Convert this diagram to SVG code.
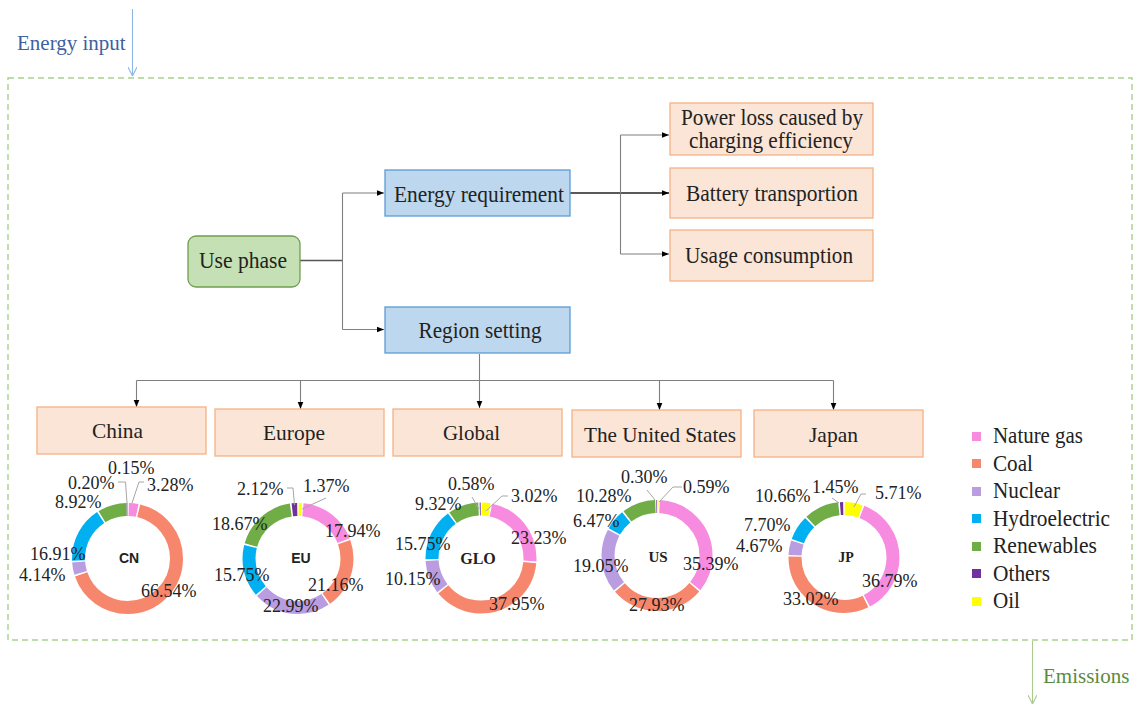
<svg xmlns="http://www.w3.org/2000/svg" width="1147" height="706" viewBox="0 0 1147 706">
<defs>
<marker id="arr" viewBox="0 0 10 10" refX="10" refY="5" markerWidth="7" markerHeight="7" markerUnits="userSpaceOnUse" orient="auto"><path d="M0,1 L10,5 L0,9 z" fill="#000"/></marker>
<marker id="vblue" viewBox="0 0 10 10" refX="10" refY="5" markerWidth="9" markerHeight="9" markerUnits="userSpaceOnUse" orient="auto"><path d="M0,0 L10,5 L0,10" fill="none" stroke="#8eb4e3" stroke-width="1.2"/></marker>
<marker id="vgreen" viewBox="0 0 10 10" refX="10" refY="5" markerWidth="9" markerHeight="9" markerUnits="userSpaceOnUse" orient="auto"><path d="M0,0 L10,5 L0,10" fill="none" stroke="#a9c98f" stroke-width="1.2"/></marker>
<style>
text{font-family:"Liberation Serif","Times New Roman",serif;fill:#222}
.box{font-size:23px;text-anchor:middle}
.reg{font-size:22px;text-anchor:middle}
.pct{font-size:18px}
.blue{fill:#bdd7ee;stroke:#5b9bd5;stroke-width:1.3}
.orange{fill:#fbe5d6;stroke:#f4b183;stroke-width:1.3}
.green{fill:#c5e0b4;stroke:#6f9f4f;stroke-width:1.3}
.conn{fill:none;stroke:#7f7f7f;stroke-width:1.1}
.lead{fill:none;stroke:#a6a6a6;stroke-width:1}
.seg{fill:none;stroke-width:13}
.gas{stroke:#f78be0}.coal{stroke:#f7876c}.nuc{stroke:#b99de0}.hyd{stroke:#00b0f0}.ren{stroke:#70ad47}.oth{stroke:#7030a0}.oil{stroke:#ffff00}
.ctr{font-weight:bold;text-anchor:middle}
.leg{font-size:22.5px}
</style>
</defs>
<rect width="1147" height="706" fill="#fff"/>

<!-- frame -->
<rect x="8" y="78" width="1124" height="562" fill="none" stroke="#a9d18e" stroke-width="1.4" stroke-dasharray="6,4"/>

<!-- energy input / emissions -->
<g id="energy-input">
<line x1="132.5" y1="9" x2="132.5" y2="76" stroke="#8eb4e3" stroke-width="1.1" marker-end="url(#vblue)"/>
<text x="17" y="50" font-size="21" style="fill:#3f5f9f">Energy input</text>
</g>
<g id="emissions">
<line x1="1032.5" y1="641" x2="1032.5" y2="704" stroke="#a9c98f" stroke-width="1.1" marker-end="url(#vgreen)"/>
<text x="1043" y="683" font-size="21" style="fill:#5b8b3e">Emissions</text>
</g>

<!-- connectors -->
<g id="connectors">
<path class="conn" d="M300,260.5 H342.5" style="stroke:#555;stroke-width:1.5"/>
<path class="conn" d="M342.5,193 V329.5"/>
<path class="conn" d="M342.5,193 H384" marker-end="url(#arr)"/>
<path class="conn" d="M342.5,329.5 H384" marker-end="url(#arr)"/>
<path class="conn" d="M570,193 H669" style="stroke:#222;stroke-width:1.3" marker-end="url(#arr)"/>
<path class="conn" d="M620.5,135 V254"/>
<path class="conn" d="M620.5,135 H669" marker-end="url(#arr)"/>
<path class="conn" d="M620.5,254 H669" marker-end="url(#arr)"/>
<path class="conn" d="M479.5,354 V408" marker-end="url(#arr)"/>
<path class="conn" d="M136.5,380.5 H833.5"/>
<path class="conn" d="M136.5,380.5 V407" marker-end="url(#arr)"/>
<path class="conn" d="M300.5,380.5 V409" marker-end="url(#arr)"/>
<path class="conn" d="M659.5,380.5 V410" marker-end="url(#arr)"/>
<path class="conn" d="M833.5,380.5 V410" marker-end="url(#arr)"/>
</g>

<!-- nodes -->
<g id="use-phase"><rect class="green" x="188" y="236" width="112" height="51" rx="8"/><text class="box" x="243" y="268" textLength="88" lengthAdjust="spacingAndGlyphs">Use phase</text></g>
<g id="energy-requirement"><rect class="blue" x="385" y="170" width="185" height="46"/><text class="box" x="479" y="202" textLength="170" lengthAdjust="spacingAndGlyphs">Energy requirement</text></g>
<g id="region-setting"><rect class="blue" x="385" y="307" width="185" height="46"/><text class="box" x="480" y="338" textLength="123" lengthAdjust="spacingAndGlyphs">Region setting</text></g>
<g id="power-loss"><rect class="orange" x="670" y="103" width="203" height="52"/><text class="box" x="772" y="125" textLength="182" lengthAdjust="spacingAndGlyphs">Power loss caused by</text><text class="box" x="771" y="148" textLength="164" lengthAdjust="spacingAndGlyphs">charging efficiency</text></g>
<g id="battery-transportion"><rect class="orange" x="670" y="168" width="203" height="50"/><text class="box" x="772" y="201" textLength="172" lengthAdjust="spacingAndGlyphs">Battery transportion</text></g>
<g id="usage-consumption"><rect class="orange" x="670" y="230" width="203" height="51"/><text class="box" x="769" y="263" textLength="168" lengthAdjust="spacingAndGlyphs">Usage consumption</text></g>

<g id="china"><rect class="orange" x="37" y="407" width="169" height="47"/><text class="reg" x="117.5" y="438" textLength="51" lengthAdjust="spacingAndGlyphs">China</text></g>
<g id="europe"><rect class="orange" x="215" y="409" width="169" height="47"/><text class="reg" x="294" y="440" textLength="62" lengthAdjust="spacingAndGlyphs">Europe</text></g>
<g id="global"><rect class="orange" x="393" y="409" width="169" height="47"/><text class="reg" x="471.5" y="440" textLength="57" lengthAdjust="spacingAndGlyphs">Global</text></g>
<g id="united-states"><rect class="orange" x="572" y="410" width="169" height="47"/><text class="reg" x="660" y="442" textLength="152" lengthAdjust="spacingAndGlyphs">The United States</text></g>
<g id="japan"><rect class="orange" x="754" y="410" width="169" height="47"/><text class="reg" x="833.5" y="442" textLength="49" lengthAdjust="spacingAndGlyphs">Japan</text></g>

<!-- donut CN -->
<g id="donut-cn" transform="translate(127.5,558.5)">
<g transform="rotate(-90)">
<circle class="seg oil" r="49" pathLength="100" stroke-dasharray="0.15 100" stroke-dashoffset="-0.02"/>
<circle class="seg gas" r="49" pathLength="100" stroke-dasharray="2.78 100" stroke-dashoffset="-0.4"/>
<circle class="seg coal" r="49" pathLength="100" stroke-dasharray="66.04 100" stroke-dashoffset="-3.68"/>
<circle class="seg nuc" r="49" pathLength="100" stroke-dasharray="3.64 100" stroke-dashoffset="-70.22"/>
<circle class="seg hyd" r="49" pathLength="100" stroke-dasharray="16.41 100" stroke-dashoffset="-74.36"/>
<circle class="seg ren" r="49" pathLength="100" stroke-dasharray="8.42 100" stroke-dashoffset="-91.27"/>
<circle class="seg oth" r="49" pathLength="100" stroke-dasharray="0.2 100" stroke-dashoffset="-99.75"/>
</g>
<text class="ctr" x="1.5" y="4" font-size="14" style="font-family:'Liberation Sans',Arial,sans-serif">CN</text>
</g>
<g id="labels-cn">
<path class="lead" d="M118,482 H125.5 L127,503"/>
<path class="lead" d="M144,482 H139 L132,503"/>
<text class="pct" x="108" y="474">0.15%</text>
<text class="pct" x="68" y="489">0.20%</text>
<text class="pct" x="147" y="491">3.28%</text>
<text class="pct" x="55" y="508">8.92%</text>
<text class="pct" x="30" y="560">16.91%</text>
<text class="pct" x="19" y="581">4.14%</text>
<text class="pct" x="141" y="597">66.54%</text>
</g>

<!-- donut EU -->
<g id="donut-eu" transform="translate(298,558.5)">
<g transform="rotate(-90)">
<circle class="seg oil" r="49" pathLength="100" stroke-dasharray="1.0 100" stroke-dashoffset="-0.2"/>
<circle class="seg gas" r="49" pathLength="100" stroke-dasharray="17.44 100" stroke-dashoffset="-1.62"/>
<circle class="seg coal" r="49" pathLength="100" stroke-dasharray="20.66 100" stroke-dashoffset="-19.56"/>
<circle class="seg nuc" r="49" pathLength="100" stroke-dasharray="22.49 100" stroke-dashoffset="-40.72"/>
<circle class="seg hyd" r="49" pathLength="100" stroke-dasharray="15.25 100" stroke-dashoffset="-63.71"/>
<circle class="seg ren" r="49" pathLength="100" stroke-dasharray="18.17 100" stroke-dashoffset="-79.46"/>
<circle class="seg oth" r="49" pathLength="100" stroke-dasharray="1.62 100" stroke-dashoffset="-98.13"/>
</g>
<text class="ctr" x="3" y="4" font-size="14" style="font-family:'Liberation Sans',Arial,sans-serif">EU</text>
</g>
<g id="labels-eu">
<path class="lead" d="M287,488 H293 L294.5,505"/>
<path class="lead" d="M326,498 L302,509"/>
<text class="pct" x="237" y="495">2.12%</text>
<text class="pct" x="303" y="492">1.37%</text>
<text class="pct" x="212" y="530">18.67%</text>
<text class="pct" x="325" y="537">17.94%</text>
<text class="pct" x="214" y="581">15.75%</text>
<text class="pct" x="308" y="591">21.16%</text>
<text class="pct" x="263" y="612">22.99%</text>
</g>

<!-- donut GLO -->
<g id="donut-glo" transform="translate(481,558)">
<g transform="rotate(-90)">
<circle class="seg oil" r="49" pathLength="100" stroke-dasharray="2.52 100" stroke-dashoffset="-0.25"/>
<circle class="seg gas" r="49" pathLength="100" stroke-dasharray="22.73 100" stroke-dashoffset="-3.27"/>
<circle class="seg coal" r="49" pathLength="100" stroke-dasharray="37.45 100" stroke-dashoffset="-26.5"/>
<circle class="seg nuc" r="49" pathLength="100" stroke-dasharray="9.65 100" stroke-dashoffset="-64.45"/>
<circle class="seg hyd" r="49" pathLength="100" stroke-dasharray="15.25 100" stroke-dashoffset="-74.6"/>
<circle class="seg ren" r="49" pathLength="100" stroke-dasharray="8.82 100" stroke-dashoffset="-90.35"/>
<circle class="seg oth" r="49" pathLength="100" stroke-dasharray="0.3 100" stroke-dashoffset="-99.6"/>
</g>
<text class="ctr" x="-3" y="6" font-size="16">GLO</text>
</g>
<g id="labels-glo">
<path class="lead" d="M472,497 L479,509"/>
<path class="lead" d="M508,496 H502 L486,511"/>
<text class="pct" x="448" y="490">0.58%</text>
<text class="pct" x="511" y="502">3.02%</text>
<text class="pct" x="415" y="510">9.32%</text>
<text class="pct" x="511" y="544">23.23%</text>
<text class="pct" x="395" y="550">15.75%</text>
<text class="pct" x="385" y="585">10.15%</text>
<text class="pct" x="489" y="610">37.95%</text>
</g>

<!-- donut US -->
<g id="donut-us" transform="translate(657,555.5)">
<g transform="rotate(-90)">
<circle class="seg oil" r="49" pathLength="100" stroke-dasharray="0.35 100" stroke-dashoffset="-0.1"/>
<circle class="seg gas" r="49" pathLength="100" stroke-dasharray="34.89 100" stroke-dashoffset="-0.84"/>
<circle class="seg coal" r="49" pathLength="100" stroke-dasharray="27.43 100" stroke-dashoffset="-36.23"/>
<circle class="seg nuc" r="49" pathLength="100" stroke-dasharray="18.55 100" stroke-dashoffset="-64.16"/>
<circle class="seg hyd" r="49" pathLength="100" stroke-dasharray="5.97 100" stroke-dashoffset="-83.21"/>
<circle class="seg ren" r="49" pathLength="100" stroke-dasharray="9.78 100" stroke-dashoffset="-89.68"/>
<circle class="seg oth" r="49" pathLength="100" stroke-dasharray="0.2 100" stroke-dashoffset="-99.75"/>
</g>
<text class="ctr" x="1" y="6" font-size="15">US</text>
</g>
<g id="labels-us">
<path class="lead" d="M647,490 L655,500"/>
<path class="lead" d="M682,487 H673 L659,502"/>
<text class="pct" x="621" y="483">0.30%</text>
<text class="pct" x="683" y="493">0.59%</text>
<text class="pct" x="576" y="502">10.28%</text>
<text class="pct" x="573" y="527">6.47%</text>
<text class="pct" x="573" y="572">19.05%</text>
<text class="pct" x="683" y="570">35.39%</text>
<text class="pct" x="629" y="611">27.93%</text>
</g>

<!-- donut JP -->
<g id="donut-jp" transform="translate(844,557.5)">
<g transform="rotate(-90)">
<circle class="seg oil" r="49" pathLength="100" stroke-dasharray="5.21 100" stroke-dashoffset="-0.25"/>
<circle class="seg gas" r="49" pathLength="100" stroke-dasharray="36.29 100" stroke-dashoffset="-5.96"/>
<circle class="seg coal" r="49" pathLength="100" stroke-dasharray="32.52 100" stroke-dashoffset="-42.75"/>
<circle class="seg nuc" r="49" pathLength="100" stroke-dasharray="4.17 100" stroke-dashoffset="-75.77"/>
<circle class="seg hyd" r="49" pathLength="100" stroke-dasharray="7.2 100" stroke-dashoffset="-80.44"/>
<circle class="seg ren" r="49" pathLength="100" stroke-dasharray="10.16 100" stroke-dashoffset="-88.14"/>
<circle class="seg oth" r="49" pathLength="100" stroke-dasharray="0.95 100" stroke-dashoffset="-98.8"/>
</g>
<text class="ctr" x="2" y="4" font-size="14">JP</text>
</g>
<g id="labels-jp">
<path class="lead" d="M832,498 L839,503"/>
<path class="lead" d="M866,494 H861 L854,507"/>
<text class="pct" x="812" y="493">1.45%</text>
<text class="pct" x="755" y="502">10.66%</text>
<text class="pct" x="875" y="499">5.71%</text>
<text class="pct" x="744" y="531">7.70%</text>
<text class="pct" x="736" y="552">4.67%</text>
<text class="pct" x="862" y="587">36.79%</text>
<text class="pct" x="783" y="605">33.02%</text>
</g>

<!-- legend -->
<g id="legend">
<rect x="972" y="432" width="9" height="9" fill="#f78be0"/><text class="leg" x="993" y="443" textLength="90" lengthAdjust="spacingAndGlyphs">Nature gas</text>
<rect x="972" y="459" width="9" height="9" fill="#f7876c"/><text class="leg" x="993" y="471" textLength="40" lengthAdjust="spacingAndGlyphs">Coal</text>
<rect x="972" y="487" width="9" height="9" fill="#b99de0"/><text class="leg" x="993" y="498" textLength="67" lengthAdjust="spacingAndGlyphs">Nuclear</text>
<rect x="972" y="514" width="9" height="9" fill="#00b0f0"/><text class="leg" x="993" y="526" textLength="117" lengthAdjust="spacingAndGlyphs">Hydroelectric</text>
<rect x="972" y="542" width="9" height="9" fill="#70ad47"/><text class="leg" x="993" y="553" textLength="104" lengthAdjust="spacingAndGlyphs">Renewables</text>
<rect x="972" y="569" width="9" height="9" fill="#7030a0"/><text class="leg" x="993" y="581" textLength="57" lengthAdjust="spacingAndGlyphs">Others</text>
<rect x="972" y="597" width="9" height="9" fill="#ffff00"/><text class="leg" x="993" y="608" textLength="27" lengthAdjust="spacingAndGlyphs">Oil</text>
</g>
</svg>
